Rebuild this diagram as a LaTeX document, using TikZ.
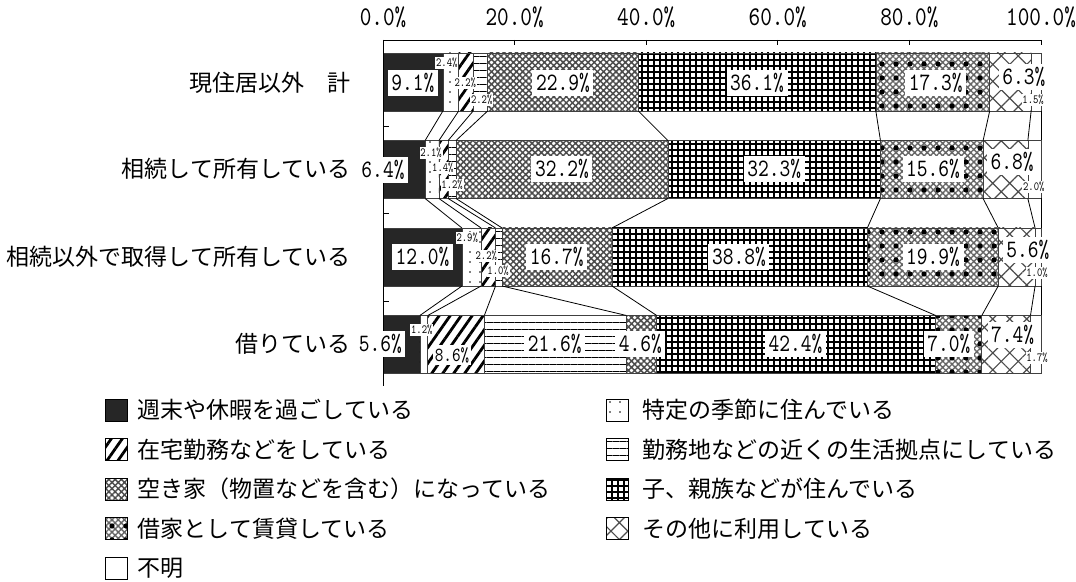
\documentclass[tikz,border=0pt]{standalone}
\usepackage{fontspec}
\newfontfamily\jp{Noto Sans CJK JP}
\newfontfamily\pctfont{lmmono10-regular.otf}[FakeStretch=0.82]
\usetikzlibrary{patterns.meta,positioning}
\begin{document}
\begin{tikzpicture}[x=0.5pt,y=-0.5pt,
seg/.style={draw=black!75,line width=0.3pt},
wkend/.style={fill=black!85},
season/.style={pattern={Dots[distance=5pt,radius=0.4pt]}},
telework/.style={pattern={Lines[angle=55,distance=4.5pt,line width=1.4pt]}},
workbase/.style={pattern={Lines[angle=0,distance=3.5pt,line width=0.5pt]}},
vacant/.style={pattern={Hatch[angle=45,distance=2.2pt,line width=0.75pt]},pattern color=black!70},
family/.style={pattern={Hatch[angle=0,distance=3pt,line width=0.65pt]}},
rental/.style={preaction={pattern={Hatch[angle=45,distance=2.2pt,line width=0.7pt]},pattern color=black!60},pattern={Dots[distance=7pt,radius=1.3pt]}},
other/.style={pattern={Hatch[angle=45,distance=6pt,line width=0.6pt]},pattern color=black!70},
unknown/.style={fill=white},
lbl/.style={fill=white,inner sep=1.8pt,font=\pctfont\fontsize{12.5}{13}\selectfont},
lblm/.style={fill=white,inner sep=1pt,font=\pctfont\fontsize{10}{11}\selectfont},
sml/.style={fill=white,inner sep=0.4pt,font=\pctfont\fontsize{6.2}{7}\selectfont},
ax/.style={font=\pctfont\fontsize{13.5}{14}\selectfont},
cat/.style={anchor=east,inner sep=1pt,font=\jp\fontsize{11.5}{12}\selectfont},
key/.style={draw,minimum size=11pt,inner sep=0pt},
txt/.style={inner sep=1pt,font=\jp\fontsize{11.5}{12}\selectfont}]
\useasboundingbox(0,0)rectangle(1076,582);
% category names
\node[cat](c1)at(353,83){現住居以外　計};
\node[cat](c2)at(353,169){相続して所有している};
\node[cat](c3)at(353,257){相続以外で取得して所有している};
\node[cat](c4)at(353,344){借りている};
\begin{scope}[xshift=191.5pt,x=3.29pt]
% bars
\foreach \a/\b/\s in {0/9.1/wkend,9.1/11.5/season,11.5/13.7/telework,13.7/15.9/workbase,15.9/38.8/vacant,
38.8/74.9/family,74.9/92.2/rental,92.2/98.5/other,98.5/100/unknown}\draw[seg,\s](\a,53)rectangle(\b,111);
\foreach \a/\b/\s in {0/6.4/wkend,6.4/8.5/season,8.5/9.9/telework,9.9/11.1/workbase,11.1/43.3/vacant,
43.3/75.6/family,75.6/91.2/rental,91.2/98.0/other,98.0/100/unknown}\draw[seg,\s](\a,140.5)rectangle(\b,198.5);
\foreach \a/\b/\s in {0/12.0/wkend,12.0/14.9/season,14.9/17.1/telework,17.1/18.1/workbase,18.1/34.8/vacant,
34.8/73.6/family,73.6/93.5/rental,93.5/99.1/other,99.1/100/unknown}\draw[seg,\s](\a,228)rectangle(\b,286);
\foreach \a/\b/\s in {0/5.6/wkend,5.6/6.8/season,6.8/15.4/telework,15.4/37.0/workbase,37.0/41.6/vacant,
41.6/84.0/family,84.0/91.0/rental,91.0/98.4/other,98.4/100/unknown}\draw[seg,\s](\a,315.5)rectangle(\b,373.5);
% series lines
\foreach \a/\b in {9.1/6.4,11.5/8.5,13.7/9.9,15.9/11.1,38.8/43.3,74.9/75.6,92.2/91.2,98.5/98.0,100/100}
\draw[line width=0.4pt](\a,111)--(\b,140.5);
\foreach \a/\b in {6.4/12.0,8.5/14.9,9.9/17.1,11.1/18.1,43.3/34.8,75.6/73.6,91.2/93.5,98.0/99.1,100/100}
\draw[line width=0.4pt](\a,198.5)--(\b,228);
\foreach \a/\b in {12.0/5.6,14.9/6.8,17.1/15.4,18.1/37.0,34.8/41.6,73.6/84.0,93.5/91.0,99.1/98.4,100/100}
\draw[line width=0.4pt](\a,286)--(\b,315.5);
% axes
\draw(0,40)--(100,40)(0,40)--(0,386);
\foreach \t in {0,20,...,100}{\draw(\t,40)--(\t,45);\node[ax](a\t)at(\t,17){\t.0\%};}
\foreach \y in {126,213.5,301}\draw(0,\y)--(0.9,\y);
% values
\node[lbl](p11)at(4.55,83){9.1\%};
\node[sml](p12)at(9.7,63){2.4\%};
\node[sml](p13)at(12.5,83){2.2\%};
\node[sml](p14)at(15.0,100){2.2\%};
\node[lbl](p15)at(27.35,83){22.9\%};
\node[lbl](p16)at(56.85,83){36.1\%};
\node[lbl](p17)at(84,83){17.3\%};
\node[lbl](p18)at(97.4,77){6.3\%};
\node[sml](p19)at(98.8,100){1.5\%};
\node[lbl](p21)at(0,170){6.4\%};
\node[sml](p22)at(7.3,153){2.1\%};
\node[sml](p23)at(9.1,168){1.4\%};
\node[sml](p24)at(10.5,185){1.2\%};
\node[lbl](p25)at(27.2,169){32.2\%};
\node[lbl](p26)at(59.45,169){32.3\%};
\node[lbl](p27)at(83.6,169){15.6\%};
\node[lbl](p28)at(95.6,162){6.8\%};
\node[sml](p29)at(98.9,187){2.0\%};
\node[lbl](p31)at(6,257){12.0\%};
\node[sml](p32)at(12.8,238){2.9\%};
\node[sml](p33)at(15.7,256){2.2\%};
\node[sml](p34)at(17.5,271){1.0\%};
\node[lbl](p35)at(26.4,257){16.7\%};
\node[lbl](p36)at(54.1,257){38.8\%};
\node[lbl](p37)at(83.6,257){19.9\%};
\node[lbl](p38)at(98,250){5.6\%};
\node[sml](p39)at(99.4,273){1.0\%};
\node[lbl](p41)at(-0.4,344){5.6\%};
\node[sml](p42)at(5.9,330){1.2\%};
\node[lblm](p43)at(10.5,355){8.6\%};
\node[lbl](p44)at(26.1,344){21.6\%};
\node[lbl](p45)at(39.1,344){4.6\%};
\node[lbl](p46)at(62.7,344){42.4\%};
\node[lbl](p47)at(86,344){7.0\%};
\node[lbl](p48)at(95.7,335){7.4\%};
\node[sml](p49)at(99.4,358){1.7\%};
\end{scope}
% legend
\node[key,wkend](k1)at(116,410){};\node[txt,right=4pt of k1](t1){週末や休暇を過ごしている};
\node[key,telework](k3)at(116,449.5){};\node[txt,right=4pt of k3](t3){在宅勤務などをしている};
\node[key,vacant](k5)at(116,489){};\node[txt,right=4pt of k5](t5){空き家（物置などを含む）になっている};
\node[key,rental](k7)at(116,528.5){};\node[txt,right=4pt of k7](t7){借家として賃貸している};
\node[key,unknown](k9)at(116,568){};\node[txt,right=4pt of k9](t9){不明};
\node[key,season](k2)at(617,410){};\node[txt,right=6pt of k2](t2){特定の季節に住んでいる};
\node[key,workbase](k4)at(617,449.5){};\node[txt,right=6pt of k4](t4){勤務地などの近くの生活拠点にしている};
\node[key,family](k6)at(617,489){};\node[txt,right=6pt of k6](t6){子、親族などが住んでいる};
\node[key,other](k8)at(617,528.5){};\node[txt,right=6pt of k8](t8){その他に利用している};
\end{tikzpicture}
\end{document}
